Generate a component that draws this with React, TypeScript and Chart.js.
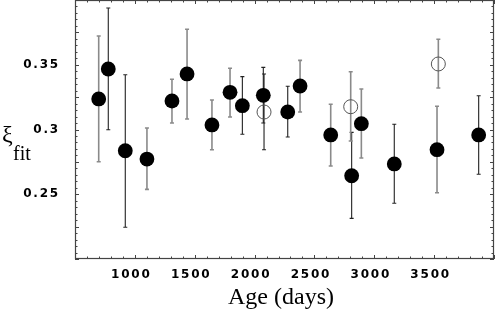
import React, { useEffect, useRef } from "react";
import { Chart, registerables } from "chart.js";

Chart.register(...registerables);

// Filled circles
const filledAge = [698, 778, 920, 1101, 1310, 1436, 1644, 1795, 1898, 2073, 2277, 2380, 2636, 2811, 2892, 3167, 3524, 3872];
const filledXi = [0.3236, 0.3467, 0.2836, 0.2772, 0.322, 0.3429, 0.3035, 0.3287, 0.3184, 0.3264, 0.3135, 0.3336, 0.2958, 0.2643, 0.3045, 0.2734, 0.2844, 0.2958];
const filledHi = [0.3722, 0.3938, 0.3423, 0.3012, 0.3388, 0.3774, 0.3228, 0.3473, 0.3408, 0.348, 0.3334, 0.3534, 0.3195, 0.2978, 0.3313, 0.304, 0.3179, 0.3261];
const filledLo = [0.2751, 0.2998, 0.2245, 0.2538, 0.305, 0.3081, 0.2844, 0.3097, 0.2963, 0.305, 0.2942, 0.3135, 0.2718, 0.2314, 0.278, 0.243, 0.2512, 0.2654];
const filledBarDark = [false, true, true, false, false, false, false, false, true, true, true, false, false, true, false, true, false, true];

// Open circles
const openAge = [2079, 2803, 3535];
const openXi = [0.3135, 0.3176, 0.3506];
const openHi = [0.3429, 0.3446, 0.3697];
const openLo = [0.2844, 0.2911, 0.332];
const openBarDark = [true, false, false];

// Axes
const xMin = 500;
const xMax = 4000;
const yMin = 0.2;
const yMax = 0.4;
const xTickLabels = [1000, 1500, 2000, 2500, 3000, 3500];
const yTickLabels = [0.25, 0.3, 0.35];
const xTitle = "Age (days)";
const yTitleMain = "ξ";
const yTitleSub = "fit";

const DARK = "#222";
const GRAY = "#8a8a8a";
const FRAME = "#444";

function isLabel(v: number, list: number[]) {
  return list.some((l) => Math.abs(l - v) < 1e-9);
}

const errorBarPlugin = {
  id: "errorBars",
  beforeDatasetsDraw(chart: any) {
    const ctx = chart.ctx;
    const xs = chart.scales.x;
    const ys = chart.scales.y;
    const drawBars = (ages: number[], hi: number[], lo: number[], dark: boolean[]) => {
      ages.forEach((a, i) => {
        const px = xs.getPixelForValue(a);
        const pt = ys.getPixelForValue(hi[i]);
        const pb = ys.getPixelForValue(lo[i]);
        ctx.save();
        ctx.strokeStyle = dark[i] ? DARK : GRAY;
        ctx.lineWidth = dark[i] ? 1.1 : 1.6;
        ctx.beginPath();
        ctx.moveTo(px, pt);
        ctx.lineTo(px, pb);
        ctx.moveTo(px - 2, pt);
        ctx.lineTo(px + 2, pt);
        ctx.moveTo(px - 2, pb);
        ctx.lineTo(px + 2, pb);
        ctx.stroke();
        ctx.restore();
      });
    };
    drawBars(filledAge, filledHi, filledLo, filledBarDark);
    drawBars(openAge, openHi, openLo, openBarDark);
  },
};

const framePlugin = {
  id: "frame",
  beforeDraw(chart: any) {
    chart.ctx.letterSpacing = "1.8px";
  },
  afterDraw(chart: any) {
    const ctx = chart.ctx;
    ctx.letterSpacing = "0px";
    const { left, right, top, bottom } = chart.chartArea;
    const xs = chart.scales.x;
    const ys = chart.scales.y;
    ctx.save();
    ctx.strokeStyle = FRAME;
    ctx.lineWidth = 1;
    ctx.beginPath();
    xs.ticks.forEach((t: any) => {
      const px = Math.round(xs.getPixelForValue(t.value)) + 0.5;
      const major = Math.abs(t.value / 500 - Math.round(t.value / 500)) < 1e-6;
      const len = major ? 4 : 2.5;
      ctx.moveTo(px, bottom);
      ctx.lineTo(px, bottom - len);
      ctx.moveTo(px, top);
      ctx.lineTo(px, top + len);
    });
    ys.ticks.forEach((t: any) => {
      const py = Math.round(ys.getPixelForValue(t.value)) + 0.5;
      const major = Math.abs(t.value / 0.025 - Math.round(t.value / 0.025)) < 1e-6;
      const len = major ? 4 : 2.5;
      ctx.moveTo(left, py);
      ctx.lineTo(left + len, py);
      ctx.moveTo(right, py);
      ctx.lineTo(right - len, py);
    });
    ctx.stroke();
    ctx.lineWidth = 1.2;
    ctx.strokeRect(left + 0.5, top + 0.5, right - left - 1, bottom - top - 1);

    ctx.fillStyle = "#000";
    ctx.textBaseline = "alphabetic";
    ctx.textAlign = "center";
    ctx.font = "24px 'Liberation Serif'";
    ctx.fillText(xTitle, 281, 304);
    ctx.textAlign = "left";
    ctx.font = "24px 'Liberation Serif'";
    ctx.fillText(yTitleMain, 2, 142);
    ctx.font = "20px 'Liberation Serif'";
    ctx.fillText(yTitleSub, 13, 160);
    ctx.restore();
  },
};

export default function App() {
  const ref = useRef<HTMLCanvasElement | null>(null);
  useEffect(() => {
    document.body.style.margin = "0";
    if (!ref.current) return;
    const chart = new Chart(ref.current, {
      type: "scatter",
      data: {
        datasets: [
          {
            label: "open",
            data: openAge.map((a, i) => ({ x: a, y: openXi[i] })),
            pointRadius: 7,
            pointBackgroundColor: "rgba(0,0,0,0)",
            pointBorderColor: "#555",
            pointBorderWidth: 1,
          },
          {
            label: "filled",
            data: filledAge.map((a, i) => ({ x: a, y: filledXi[i] })),
            pointRadius: 7.4,
            pointBackgroundColor: "#000",
            pointBorderColor: "#000",
            pointBorderWidth: 0,
          },
        ],
      },
      options: {
        animation: false,
        responsive: false,
        events: [],
        layout: { autoPadding: false, padding: { top: 0, right: 2, left: 0, bottom: 0 } },
        plugins: { legend: { display: false }, tooltip: { enabled: false } },
        scales: {
          x: {
            type: "linear",
            min: xMin,
            max: xMax,
            grid: { display: false, drawTicks: false },
            border: { display: false },
            afterFit: (s: any) => {
              s.height = 53;
              s.paddingLeft = 0;
              s.paddingRight = 0;
              s.paddingTop = 0;
              s.paddingBottom = 0;
            },
            ticks: {
              stepSize: 100,
              autoSkip: false,
              maxRotation: 0,
              padding: 9,
              labelOffset: -3.5,
              color: "#000",
              font: { family: "'DejaVu Sans'", size: 12, weight: "bold" },
              callback: (v: any) => (isLabel(Number(v), xTickLabels) ? String(v) : ""),
            },
          },
          y: {
            type: "linear",
            min: yMin,
            max: yMax,
            grid: { display: false, drawTicks: false },
            border: { display: false },
            afterFit: (s: any) => {
              s.width = 75;
              s.paddingLeft = 0;
              s.paddingRight = 0;
              s.paddingTop = 0;
              s.paddingBottom = 0;
            },
            ticks: {
              stepSize: 0.005,
              autoSkip: false,
              padding: 15,
              color: "#000",
              font: { family: "'DejaVu Sans'", size: 12, weight: "bold" },
              callback: (v: any) => {
                const n = Number(v);
                const hit = yTickLabels.find((l) => Math.abs(l - n) < 1e-9);
                return hit !== undefined ? String(hit) : "";
              },
            },
          },
        },
      },
      plugins: [errorBarPlugin, framePlugin],
    } as any);
    return () => chart.destroy();
  }, []);
  return (
    <div style={{ position: "fixed", left: 0, top: 0, width: 496, height: 312, background: "#fff" }}>
      <canvas ref={ref} width={496} height={312} style={{ width: 496, height: 312, display: "block" }} />
    </div>
  );
}
